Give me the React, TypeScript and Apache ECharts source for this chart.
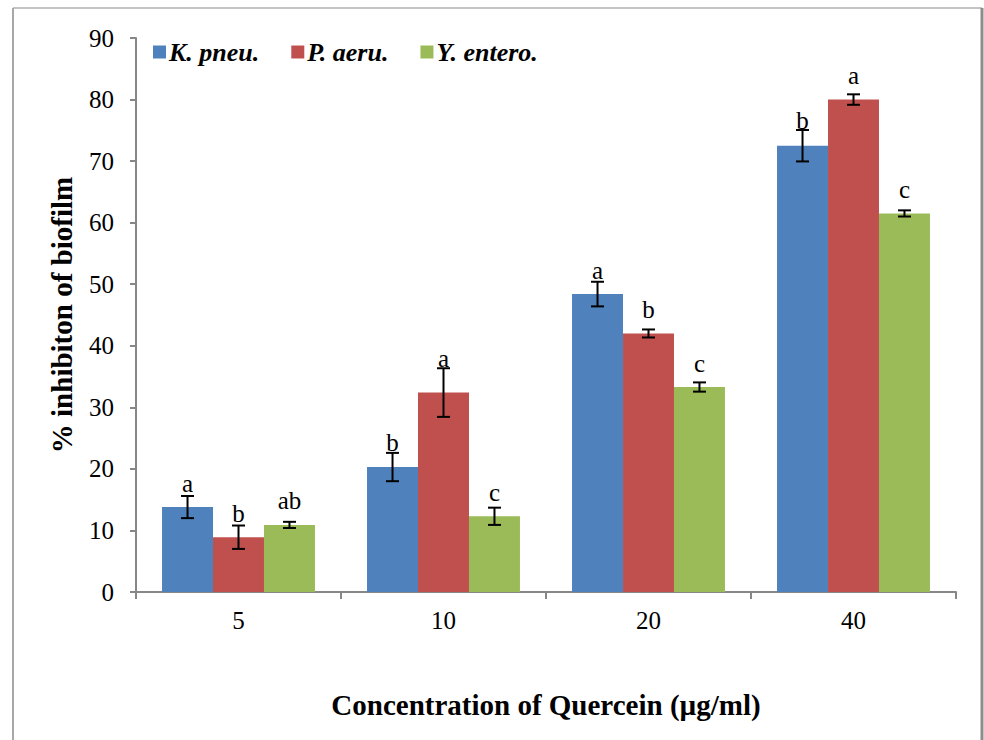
import React, { useEffect, useRef } from "react";
import * as echarts from "echarts";

const categories = ["5", "10", "20", "40"];
const seriesNames = ["K. pneu.", "P. aeru.", "Y. entero."];
const kpneu = [13.8, 20.3, 48.4, 72.5];
const paeru = [8.9, 32.4, 42.0, 80.0];
const yentero = [10.9, 12.3, 33.3, 61.5];
const kpneuErr = [1.8, 2.3, 2.0, 2.55];
const paeruErr = [1.9, 3.95, 0.65, 0.85];
const yenteroErr = [0.5, 1.4, 0.75, 0.5];
const kpneuLetters = ["a", "b", "a", "b"];
const paeruLetters = ["b", "a", "b", "a"];
const yenteroLetters = ["ab", "c", "c", "c"];
const colors = ["#4f81bd", "#c0504d", "#9bbb59"];
const yTicks = [0, 90, 10];

const SERIF = "'Liberation Serif', 'Times New Roman', serif";

export default function App() {
  const ref = useRef<HTMLDivElement>(null);
  useEffect(() => {
    if (!ref.current) return;
    const chart = echarts.init(ref.current, null, { renderer: "svg" });
    const values = [kpneu, paeru, yentero];
    const errs = [kpneuErr, paeruErr, yenteroErr];
    const letters = [kpneuLetters, paeruLetters, yenteroLetters];
    const catGap = 0.254;

    const barSeries = seriesNames.map((name, i) => ({
      name,
      type: "bar",
      data: values[i],
      itemStyle: { color: colors[i] },
      barGap: "0%",
      barCategoryGap: catGap * 100 + "%",
      z: 2,
    }));

    const errSeries = seriesNames.map((name, i) => ({
      type: "custom",
      name: name + "-err",
      z: 5,
      data: values[i].map((v, j) => [j, v, errs[i][j], letters[i][j]]),
      encode: { x: 0, y: 1 },
      renderItem: (params: any, api: any) => {
        const c = api.value(0);
        const v = api.value(1);
        const e = api.value(2);
        const letter = letters[i][params.dataIndex];
        const catW = api.size([1, 0])[0];
        const bw = (catW * (1 - catGap)) / 3;
        const center = api.coord([c, v]);
        const x = center[0] + (i - 1) * bw;
        const top = api.coord([c, v + e])[1];
        const bot = api.coord([c, v - e])[1];
        const barTop = center[1];
        const cap = 6.5;
        const ly = Math.min(barTop - 24, top - 10);
        const st = { stroke: "#000", lineWidth: 2 };
        return {
          type: "group",
          children: [
            { type: "line", shape: { x1: x, y1: top, x2: x, y2: bot }, style: st },
            { type: "line", shape: { x1: x - cap, y1: top, x2: x + cap, y2: top }, style: st },
            { type: "line", shape: { x1: x - cap, y1: bot, x2: x + cap, y2: bot }, style: st },
            {
              type: "text",
              x,
              y: ly,
              style: {
                text: letter,
                fill: "#000",
                font: "25px " + SERIF,
                align: "center",
                verticalAlign: "middle",
              },
            },
          ],
        };
      },
    }));

    chart.setOption({
      animation: false,
      backgroundColor: "#fff",
      color: colors,
      legend: {
        data: seriesNames,
        left: 148,
        top: 34,
        itemWidth: 13,
        itemHeight: 13,
        itemGap: 32,
        icon: "rect",
        textStyle: {
          fontFamily: SERIF,
          fontSize: 26,
          fontWeight: "bold",
          fontStyle: "italic",
          color: "#000",
          padding: [0, 0, 0, -2],
        },
      },
      grid: { left: 136, right: 28, top: 38, bottom: 148, containLabel: false },
      xAxis: {
        type: "category",
        data: categories,
        axisLine: { lineStyle: { color: "#878787", width: 2 } },
        axisTick: { show: true, length: 7, lineStyle: { color: "#878787", width: 2 } },
        axisLabel: { fontFamily: SERIF, fontSize: 25, color: "#000", margin: 16 },
        name: "Concentration of Quercein (µg/ml)",
        nameLocation: "middle",
        nameGap: 98,
        nameTextStyle: { fontFamily: SERIF, fontSize: 29, fontWeight: "bold", color: "#000" },
      },
      yAxis: {
        type: "value",
        min: yTicks[0],
        max: yTicks[1],
        interval: yTicks[2],
        splitLine: { show: false },
        axisLine: { show: true, lineStyle: { color: "#878787", width: 2 } },
        axisTick: { show: true, length: 6, lineStyle: { color: "#878787", width: 2 } },
        axisLabel: { fontFamily: SERIF, fontSize: 25, color: "#000", margin: 22 },
        name: "% inhibiton of biofilm",
        nameLocation: "middle",
        nameGap: 60,
        nameTextStyle: { fontFamily: SERIF, fontSize: 29, fontWeight: "bold", color: "#000" },
      },
      graphic: [
        { type: "line", shape: { x1: 13, y1: 8, x2: 982, y2: 8 }, style: { stroke: "#c4c4c4", lineWidth: 2 } },
        { type: "line", shape: { x1: 13, y1: 8, x2: 13, y2: 740 }, style: { stroke: "#a8a8a8", lineWidth: 2 } },
        { type: "line", shape: { x1: 982, y1: 8, x2: 982, y2: 740 }, style: { stroke: "#8c8c8c", lineWidth: 3 } },
      ],
      series: [...barSeries, ...errSeries],
    });
    return () => chart.dispose();
  }, []);
  return (
    <div
      ref={ref}
      style={{ position: "fixed", left: 0, top: 0, width: 984, height: 740 }}
    />
  );
}
